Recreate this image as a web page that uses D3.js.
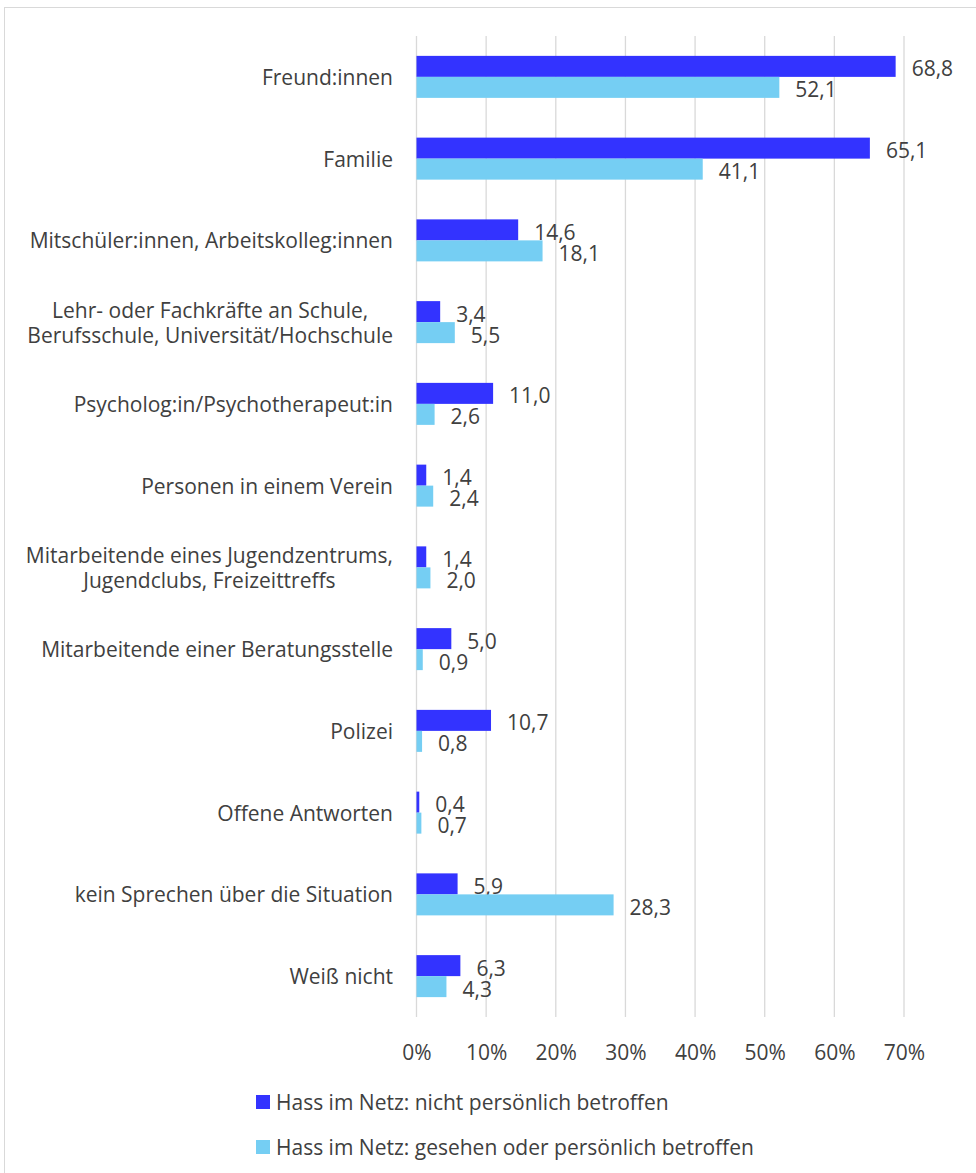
<!DOCTYPE html>
<html><head><meta charset="utf-8">
<script src="https://cdn.jsdelivr.net/npm/d3@7"></script>
<style>body{margin:0;background:#fff}svg{display:block}text{font-family:"Open Sans",sans-serif;fill:#404040}</style>
</head><body>
<script>
const categories = [
  ["Freund:innen"],
  ["Familie"],
  ["Mitschüler:innen, Arbeitskolleg:innen"],
  ["Lehr- oder Fachkräfte an Schule,", "Berufsschule, Universität/Hochschule"],
  ["Psycholog:in/Psychotherapeut:in"],
  ["Personen in einem Verein"],
  ["Mitarbeitende eines Jugendzentrums,", "Jugendclubs, Freizeittreffs"],
  ["Mitarbeitende einer Beratungsstelle"],
  ["Polizei"],
  ["Offene Antworten"],
  ["kein Sprechen über die Situation"],
  ["Weiß nicht"]
];
const seriesNames = ["Hass im Netz: nicht persönlich betroffen", "Hass im Netz: gesehen oder persönlich betroffen"];
const nichtBetroffen = [68.8, 65.1, 14.6, 3.4, 11.0, 1.4, 1.4, 5.0, 10.7, 0.4, 5.9, 6.3];
const gesehenBetroffen = [52.1, 41.1, 18.1, 5.5, 2.6, 2.4, 2.0, 0.9, 0.8, 0.7, 28.3, 4.3];
const ticks = [0, 10, 20, 30, 40, 50, 60, 70];
const colors = ["#3333FF", "#75CEF3"];

const W = 976, H = 1173, FS = "21px";
const svg = d3.select("body").append("svg").attr("width", W).attr("height", H);
svg.append("rect").attr("x", 4.5).attr("y", 7.5).attr("width", W + 10).attr("height", H + 10)
  .attr("fill", "none").attr("stroke", "#d9d9d9");

const x = d3.scaleLinear().domain([0, 70]).range([416.5, 904]);
const y = d3.scaleBand().domain(d3.range(categories.length)).range([36, 1017]);
const bh = 21;

svg.append("g").selectAll("line").data(ticks).join("line")
  .attr("x1", d => x(d)).attr("x2", d => x(d)).attr("y1", 36).attr("y2", 1017)
  .attr("stroke", "#d9d9d9").attr("stroke-width", 1.3);

const ax = svg.append("g").attr("transform", "translate(0,1049)")
  .call(d3.axisBottom(x).tickValues(ticks).tickFormat(d => d + "%").tickSize(0));
ax.select(".domain").remove();
ax.selectAll("text").attr("dy", 0).attr("dominant-baseline", "central")
  .style("font-size", FS).style("font-family", "'Open Sans',sans-serif").attr("fill", "#595959");

const series = [nichtBetroffen, gesehenBetroffen];
const fmt = v => v.toFixed(1).replace(".", ",");
series.forEach((vals, s) => {
  const g = svg.append("g");
  g.selectAll("rect").data(vals).join("rect")
    .attr("x", x(0)).attr("y", (d, i) => y(i) + y.bandwidth() / 2 - bh + s * bh)
    .attr("width", d => x(d) - x(0)).attr("height", bh).attr("fill", colors[s]);
  g.selectAll("text").data(vals).join("text")
    .attr("x", d => x(d) + 16).attr("y", (d, i) => y(i) + y.bandwidth() / 2 - bh / 2 + s * bh + 2)
    .attr("dominant-baseline", "central").style("font-size", FS).text(fmt);
});

const cl = svg.append("g");
categories.forEach((lines, i) => {
  const cy = y(i) + y.bandwidth() / 2;
  const t = cl.append("text").attr("text-anchor", "middle").style("font-size", FS).attr("fill", "#595959");
  const spans = lines.map((ln, j) => t.append("tspan")
    .attr("y", cy + (j - (lines.length - 1) / 2) * 25)
    .attr("dominant-baseline", "central").text(ln));
  const maxW = d3.max(spans, sp => sp.node().getComputedTextLength());
  spans.forEach(sp => sp.attr("x", 393 - maxW / 2));
});

const lg = svg.append("g");
seriesNames.forEach((n, s) => {
  const ly = 1102 + s * 45;
  lg.append("rect").attr("x", 256).attr("y", ly - 7).attr("width", 14).attr("height", 14).attr("fill", colors[s]);
  lg.append("text").attr("x", 276).attr("y", ly).attr("dominant-baseline", "central")
    .style("font-size", FS).attr("fill", "#595959").text(n);
});
</script>
</body></html>
